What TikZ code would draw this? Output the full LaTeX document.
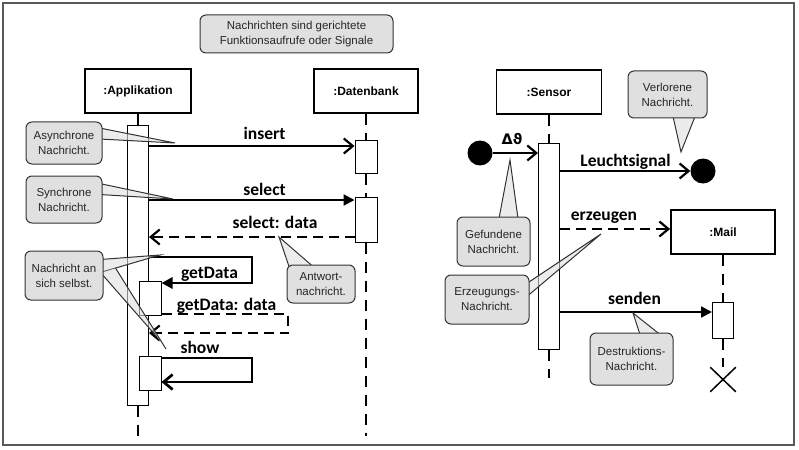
\documentclass[tikz,border=0pt]{standalone}
\usepackage{fontspec}
\setmainfont{Liberation Sans}
\newfontfamily\msgfont{Carlito}
\newfontfamily\symfont{DejaVu Sans}
\usetikzlibrary{arrows.meta,shapes.misc,calc}
\pgfdeclarelayer{front}
\pgfsetlayers{main,front}
\newcommand\wedgeto[3]{\fill[wedge] #1 -- #2 -- #3 -- cycle; \draw[wedgeline] #1 -- #2 -- #3;}
\begin{document}
\begin{tikzpicture}[x=1pt,y=-1pt,
 head/.style={draw, line width=1.8pt, fill=white, minimum height=44pt, inner sep=0pt, font=\bfseries\fontsize{12}{14}\selectfont},
 actbar/.style={draw, line width=1pt, fill=white, minimum width=21pt, inner sep=0pt},
 lifeline/.style={line width=1.6pt, dash pattern=on 11pt off 8pt},
 msg/.style={line width=2.2pt},
 loopmsg/.style={line width=2.7pt},
 ret/.style={line width=2.2pt, dash pattern=on 10pt off 6pt},
 open/.style={-{Straight Barb[length=9pt,width=15pt]}},
 filled/.style={-{Triangle[length=11pt,width=11pt]}},
 lbl/.style={font=\msgfont\bfseries\fontsize{17.5}{20}\selectfont, inner sep=0pt, anchor=base},
 note/.style={draw=black!80, line width=1pt, fill=black!12, rounded corners=6pt, align=center, inner sep=0pt, text=black!85, font=\fontsize{11.5}{15}\selectfont},
 wedge/.style={fill=black!12, fill opacity=0.6, draw=none},
 wedgeline/.style={draw=black!80, line width=1pt},
 dot/.style={circle, fill=black, minimum size=25pt, inner sep=0pt}
]
\useasboundingbox (0,0) rectangle (799,449);
\draw[line width=2pt, draw=black!65] (3,3) rectangle (794,445);

% lifeline heads
\node[head, minimum width=106pt] (app) at (138,91) {:Applikation};
\node[head, minimum width=104pt] (db) at (366,91) {:Datenbank};
\node[head, minimum width=105pt] (sensor) at (549,92) {:Sensor};
\node[head, minimum width=104pt] (mail) at (723,232) {:Mail};

% activation bars
\node[actbar, minimum height=279pt] (appbar) at (138,265.5) {};
\node[actbar, minimum width=22pt, minimum height=32pt] (dbbar1) at (366,157) {};
\node[actbar, minimum width=22pt, minimum height=45pt] (dbbar2) at (366,219.5) {};
\node[actbar, minimum height=205pt] (sensbar) at (549,246.5) {};
\node[actbar, minimum height=36pt] (mailbar) at (723,320) {};
\node[actbar, minimum width=22pt, minimum height=34pt] (nest1) at (150,298) {};
\node[actbar, minimum width=22pt, minimum height=34pt] (nest2) at (150,373) {};
\node[draw, cross out, line width=1.5pt, minimum width=24pt, minimum height=23pt, inner sep=0pt] (destroy) at (723,379.5) {};

\coordinate (appEnd) at (138,436);
\coordinate (dbEnd) at (366,436);
\coordinate (sensEnd) at (549,378);

% lifelines
\draw[line width=1.6pt] (app.south) -- (appbar.north);
\draw[lifeline] (appbar.south) -- (appEnd);
\draw[lifeline] (db.south) -- (dbbar1.north);
\draw[lifeline] (dbbar1.south) -- (dbbar2.north);
\draw[lifeline] (dbbar2.south) -- (dbEnd);
\draw[lifeline] (sensor.south) -- (sensbar.north);
\draw[lifeline] (sensbar.south) -- (sensEnd);
\draw[lifeline] (mail.south) -- (mailbar.north);
\draw[lifeline] (mailbar.south) -- (destroy.north);

% messages left
\draw[msg, open] (appbar.east |- 0,146) -- (dbbar1.west |- 0,146);
\draw[msg, filled] (appbar.east |- 0,200) -- (dbbar2.west |- 0,200);
\draw[ret, open] (dbbar2.west |- 0,237) -- (appbar.east |- 0,237);
\coordinate (gdR1) at (252,257); \coordinate (gdR2) at (252,283);
\draw[loopmsg, filled] (appbar.east |- gdR1) -- (gdR1) -- (gdR2) -- (nest1.east |- gdR2);
\coordinate (gddR1) at (288,314); \coordinate (gddR2) at (288,333);
\draw[ret, open] (nest1.east |- gddR1) -- (gddR1) -- (gddR2) -- (appbar.east |- gddR2);
\coordinate (shR1) at (252,358); \coordinate (shR2) at (252,382);
\draw[loopmsg, open] (nest2.east |- shR1) -- (shR1) -- (shR2) -- (nest2.east |- shR2);

\node[lbl] (lInsert) at (264.5,140) {insert};
\node[lbl] (lSelect) at (264.5,195) {select};
\node[lbl] (lSelData) at (275,228) {select: data};
\node[lbl] (lGet) at (209.5,278) {getData};
\node[lbl] (lGetData) at (226.5,310) {getData: data};
\node[lbl] (lShow) at (200,353) {show};

% messages right
\node[dot] (found) at (480,153) {};
\node[dot] (lost) at (703,171) {};
\draw[msg, open] (found.east) -- (sensbar.west |- found.east);
\draw[msg, open] (sensbar.east |- lost.west) -- (lost.west);
\draw[ret, open] (sensbar.east |- 0,229) -- (mail.west |- 0,229);
\draw[msg, filled] (sensbar.east |- 0,312) -- (mailbar.west |- 0,312);

\node[lbl, font=\symfont\bfseries\fontsize{14.5}{16}\selectfont] (lDelta) at (512,145) {Δϑ};
\node[lbl] (lLeucht) at (625.5,166) {Leuchtsignal};
\node[lbl] (lErz) at (604,220) {erzeugen};
\node[lbl] (lSend) at (634.5,304) {senden};

% notes
\begin{pgfonlayer}{front}
\node[note, minimum width=193pt, minimum height=38pt] (nTop) at (296.5,34) {Nachrichten sind gerichtete\\Funktionsaufrufe oder Signale};
\node[note, minimum width=76pt, minimum height=42pt] (nAsync) at (64,143) {Asynchrone\\Nachricht.};
\node[note, minimum width=76pt, minimum height=47pt] (nSync) at (64,199.5) {Synchrone\\Nachricht.};
\node[note, minimum width=78pt, minimum height=49pt] (nSelf) at (64,275.5) {Nachricht an\\sich selbst.};
\node[note, minimum width=68pt, minimum height=38pt] (nAnt) at (321,284) {Antwort-\\nachricht.};
\node[note, minimum width=79pt, minimum height=47pt] (nLost) at (667.5,94.5) {Verlorene\\Nachricht.};
\node[note, minimum width=73pt, minimum height=49pt] (nFound) at (493.5,241.5) {Gefundene\\Nachricht.};
\node[note, minimum width=84pt, minimum height=49pt] (nCreate) at (487,299.5) {Erzeugungs-\\Nachricht.};
\node[note, minimum width=83pt, minimum height=52pt] (nDestr) at (631.5,359) {Destruktions-\\Nachricht.};
\end{pgfonlayer}

% callout pointers
\coordinate (tAsync) at (175,143);
\coordinate (tSync) at (173,199);
\coordinate (tSelfA) at (160,255);
\coordinate (tSelfB) at (157,337);
\coordinate (tSelfC) at (166,349);
\coordinate (tAnt) at (279,237);
\coordinate (tLost) at (681,152);
\coordinate (tFound) at (510,160);
\coordinate (tCreate) at (601,234);
\coordinate (tDestr) at (633,313);

\wedgeto{($(nAsync.east)+(-3,-15)$)}{(tAsync)}{($(nAsync.east)+(-3,-4)$)}
\wedgeto{($(nSync.east)+(-3,-16)$)}{(tSync)}{($(nSync.east)+(-3,-5)$)}
\wedgeto{($(nSelf.east)+(-3,-16)$)}{(tSelfA)}{($(nSelf.east)+(-3,-3)$)}
\fill[wedge] ($(nSelf.east)+(-3,-3)$) -- (tSelfB) -- (tSelfC) -- ($(nSelf.east)+(12,-7.5)$) -- cycle;
\draw[wedgeline] ($(nSelf.east)+(-3,-3)$) -- (tSelfB);
\draw[wedgeline] ($(nSelf.east)+(12,-7.5)$) -- (tSelfC);
\wedgeto{($(nAnt.north)+(-32,2)$)}{(tAnt)}{($(nAnt.north)+(-8,2)$)}
\wedgeto{($(nLost.south)+(5.5,-2)$)}{(tLost)}{($(nLost.south)+(27.5,-2)$)}
\wedgeto{($(nFound.north)+(5.5,2)$)}{(tFound)}{($(nFound.north)+(24.5,2)$)}
\wedgeto{($(nCreate.east)+(-2,-16.5)$)}{(tCreate)}{($(nCreate.east)+(-2,-3.5)$)}
\wedgeto{($(nDestr.north)+(8.5,2)$)}{(tDestr)}{($(nDestr.north)+(28.5,2)$)}
\end{tikzpicture}
\end{document}
